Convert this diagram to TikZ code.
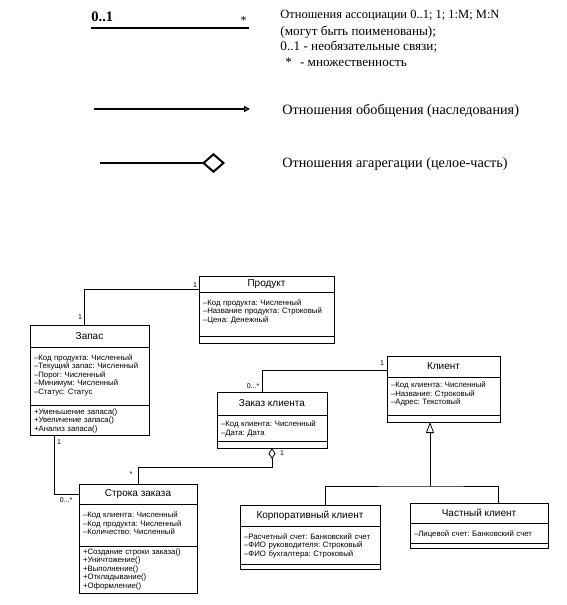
\documentclass[tikz,border=0pt]{standalone}
\usepackage{fontspec}
\setmainfont{Liberation Serif}
\setsansfont{Liberation Sans}
\frenchspacing
\usetikzlibrary{positioning,arrows.meta}
\begin{document}
\begin{tikzpicture}[x=1pt,y=-1pt,line width=0.8pt,
	ttl/.style={draw,outer sep=0pt,inner sep=0pt,font=\sffamily\fontsize{10}{12}\selectfont},
	sec/.style 2 args={draw,outer sep=0pt,inner xsep=4pt,inner ysep=0pt,align=left,
		text height=#1,text depth=#2,font=\sffamily\fontsize{7.8}{8.5}\selectfont},
	mult/.style={inner sep=0pt,font=\sffamily\fontsize{7}{8}\selectfont},
	legtxt/.style={inner sep=0pt,anchor=base west,font=\fontsize{13.2}{15}\selectfont},
	legbig/.style={inner sep=0pt,anchor=base west,font=\fontsize{14.2}{16}\selectfont},
	agg/.style={{Diamond[open,length=11pt,width=7pt]}-},
	gen/.style={-{Triangle[open,length=11pt,width=8pt]}}]
\useasboundingbox (0,0) rectangle (566,605);
\coordinate (l1a) at (91,28);
\coordinate (l1b) at (249,28);
\draw[line width=1.8pt] (l1a) -- (l1b);
\node[inner sep=0pt,anchor=base west,font=\bfseries\fontsize{14.5}{14}\selectfont] (l1m) at (91,21) {0..1};
\node[inner sep=0pt,anchor=base east,font=\fontsize{12}{12}\selectfont] (l1s) at (247,24) {*};
\node[legtxt,font=\fontsize{12.5}{15}\selectfont] (as1) at (280,19) {Отношения ассоциации 0..1; 1; 1:M; M:N};
\node[legtxt] (as2) at (280,35) {(могут быть поименованы);};
\node[legtxt] (as3) at (280,50.5) {0..1 - необязательные связи;};
\node[legtxt] (as4) at (280,66) {\hspace{5pt}*\hspace{8pt}- множественность};
\coordinate (l2a) at (94,109);
\coordinate (l2b) at (250,109);
\draw[line width=1.3pt,-{Triangle[open,length=6pt,width=6pt]}] (l2a) -- (l2b);
\node[legbig] (gn1) at (282,114) {Отношения обобщения (наследования)};
\coordinate (l3a) at (100,163);
\coordinate (l3b) at (225,163);
\draw[line width=1.3pt,-{Diamond[open,length=23pt,width=20pt,line width=2pt]}] (l3a) -- (l3b);
\node[legbig] (ag1) at (282,167) {Отношения агарегации (целое-часть)};

\node[ttl,minimum width=135pt,minimum height=16pt,anchor=north west] (prod) at (199,276) {Продукт};
\node[sec={13pt}{31pt},text width=127pt,below=0pt of prod] (prodA) {–Код продукта: Численный\\–Название продукта: Строковый\\–Цена: Денежный};
\node[sec={0pt}{7pt},text width=127pt,below=0pt of prodA] (prodO) {};

\node[ttl,minimum width=119pt,minimum height=22pt,anchor=north west] (zapas) at (30,325) {Запас};
\node[sec={13pt}{45pt},text width=111pt,below=0pt of zapas] (zapasA) {–Код продукта: Численный\\–Текущий запас: Численный\\–Порог: Численный\\–Минимум: Численный\\–Статус: Статус};
\node[sec={9pt}{21pt},text width=111pt,below=0pt of zapasA] (zapasO) {+Уменьшение запаса()\\+Увеличение запаса()\\+Анализ запаса()};

\node[ttl,minimum width=110pt,minimum height=23pt,anchor=north west] (zak) at (217,392) {Заказ клиента};
\node[sec={11.5pt}{14.5pt},text width=102pt,below=0pt of zak] (zakA) {–Код клиента: Численный\\–Дата: Дата};
\node[sec={0pt}{7pt},text width=102pt,below=0pt of zakA] (zakO) {};

\node[ttl,minimum width=113pt,minimum height=21pt,anchor=north west] (kl) at (387,356) {Клиент};
\node[sec={10.5pt}{27.5pt},text width=105pt,below=0pt of kl] (klA) {–Код клиента: Численный\\–Название: Строковый\\–Адрес: Текстовый};
\node[sec={0pt}{7pt},text width=105pt,below=0pt of klA] (klO) {};

\node[ttl,minimum width=118pt,minimum height=20pt,anchor=north west] (str) at (79,484) {Строка заказа};
\node[sec={13.5pt}{28.5pt},text width=110pt,below=0pt of str] (strA) {–Код клиента: Численный\\–Код продукта: Численный\\–Количество: Численный};
\node[sec={8pt}{39pt},text width=110pt,below=0pt of strA] (strO) {+Создание строки заказа()\\+Уничтожение()\\+Выполнение()\\+Откладывание()\\+Оформление()};

\node[ttl,minimum width=140pt,minimum height=21pt,anchor=north west] (korp) at (240,505) {Корпоративный клиент};
\node[sec={13pt}{25pt},text width=132pt,below=0pt of korp] (korpA) {–Расчетный счет: Банковский счет\\–ФИО руководителя: Строковый\\–ФИО бухгалтера: Строковый};
\node[sec={0pt}{5pt},text width=132pt,below=0pt of korpA] (korpO) {};

\node[ttl,minimum width=138pt,minimum height=20pt,anchor=north west] (chast) at (410,503) {Частный клиент};
\node[sec={13pt}{7pt},text width=130pt,below=0pt of chast] (chastA) {–Лицевой счет: Банковский счет};
\node[sec={0pt}{5pt},text width=130pt,below=0pt of chastA] (chastO) {};

\draw ([xshift=-5.5pt]zapas.north) |- ([yshift=-5pt]prod.west);
\node[mult] (m1) at (80,317) {1};
\node[mult] (m2) at (195,285) {1};
\draw ([xshift=-35.5pt]zapasO.south) |- (str.west);
\node[mult] (m3) at (59,442) {1};
\node[mult] (m4) at (66,500) {0...*};
\draw[agg] (zakO.south) -- ++(0,19) -| (str.north);
\node[mult] (m5) at (282,453) {1};
\node[mult] (m6) at (131,474) {*};
\draw ([xshift=-10pt]zak.north) |- ([yshift=-3.5pt]kl.west);
\node[mult] (m7) at (253,386) {0...*};
\node[mult] (m8) at (382,363) {1};
\coordinate (fork) at (430,486);
\draw ([xshift=15pt]korp.north) |- (fork) -| ([xshift=19pt]chast.north);
\draw[gen] (fork) -- (fork |- klO.south);
\end{tikzpicture}
\end{document}
